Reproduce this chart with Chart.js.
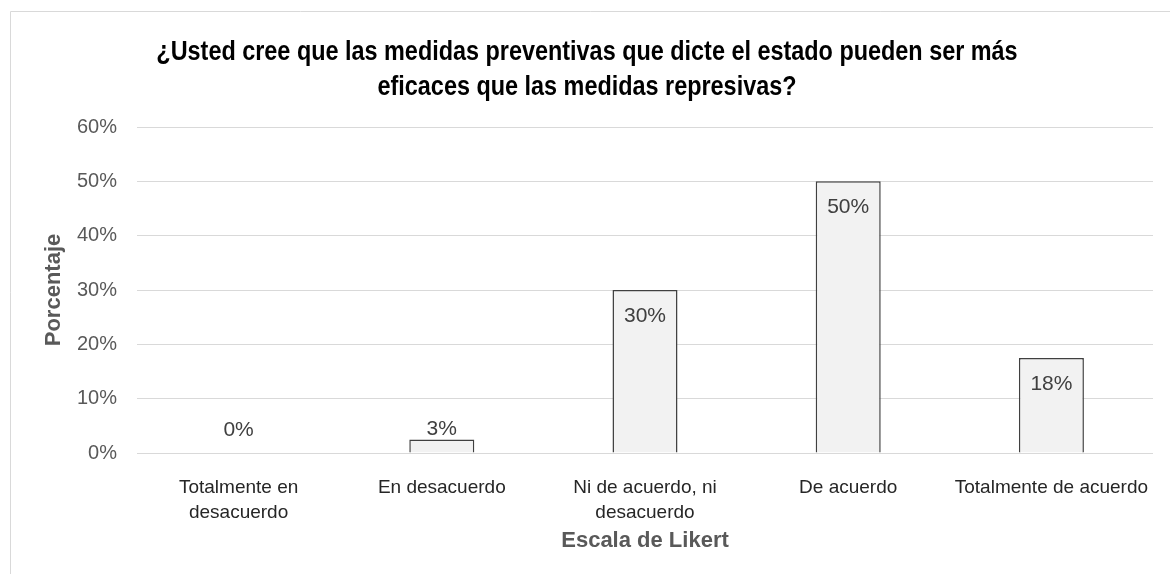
<!DOCTYPE html>
<html>
<head>
<meta charset="utf-8">
<script src="https://cdn.jsdelivr.net/npm/chart.js"></script>
<style>
    body { margin: 0; background: #fff; }
    canvas { display: block; }
</style>
</head>
<body>
<canvas id="likert-canvas" width="1170" height="574"></canvas>
<script>
var categorias = [
    ["Totalmente en", "desacuerdo"],
    "En desacuerdo",
    ["Ni de acuerdo, ni", "desacuerdo"],
    "De acuerdo",
    "Totalmente de acuerdo"
];
var porcentajes = [0, 2.5, 30, 50, 17.5];
var ticksY = [0, 10, 20, 30, 40, 50, 60];

var titulo = [
    "¿Usted cree que las medidas preventivas que dicte el estado pueden ser más",
    "eficaces que las medidas represivas?"
];

// marco gris del area del grafico
var marco = {
    id: 'marco',
    beforeDraw: function (chart) {
        var ctx = chart.ctx;
        ctx.save();
        ctx.strokeStyle = '#d9d9d9';
        ctx.lineWidth = 1;
        ctx.beginPath();
        ctx.moveTo(10.5, 574);
        ctx.lineTo(10.5, 11.5);
        ctx.lineTo(1170, 11.5);
        ctx.stroke();
        ctx.restore();
    }
};

// titulo en negrita angosta (se comprime horizontalmente, no hay Arial Narrow)
var tituloAngosto = {
    id: 'tituloAngosto',
    afterDraw: function (chart) {
        var ctx = chart.ctx;
        ctx.save();
        ctx.font = 'bold 27px "Liberation Sans", Arial, sans-serif';
        ctx.fillStyle = '#000';
        ctx.textAlign = 'center';
        ctx.textBaseline = 'middle';
        titulo.forEach(function (linea, i) {
            ctx.save();
            ctx.translate(587, 53 + i * 35);
            ctx.scale(0.867, 1);
            ctx.fillText(linea, 0, 0);
            ctx.restore();
        });
        ctx.restore();
    }
};

// etiquetas de porcentaje sobre cada barra
var etiquetas = {
    id: 'etiquetas',
    afterDatasetsDraw: function (chart) {
        var ctx = chart.ctx;
        var meta = chart.getDatasetMeta(0);
        ctx.save();
        ctx.font = '21px "Liberation Sans", Arial, sans-serif';
        ctx.fillStyle = '#404040';
        ctx.textAlign = 'center';
        ctx.textBaseline = 'middle';
        meta.data.forEach(function (bar, i) {
            var valor = chart.data.datasets[0].data[i];
            var alto = bar.base - bar.y;
            var y;
            if (alto > 40) {
                y = bar.y + 26;
            } else {
                y = Math.min(bar.y - 8, bar.base - 23);
            }
            ctx.fillText(Math.round(valor) + '%', bar.x, y);
        });
        ctx.restore();
    }
};

var ctx = document.getElementById('likert-canvas');

var grafico = new Chart(ctx, {
    type: 'bar',
    data: {
        labels: categorias,
        datasets: [
            {
                label: 'Porcentaje',
                data: porcentajes,
                backgroundColor: '#f2f2f2',
                borderColor: '#404040',
                borderWidth: 1.5,
                categoryPercentage: 1,
                barPercentage: 0.32
            }
        ]
    },
    options: {
        responsive: false,
        animation: false,
        devicePixelRatio: 1,
        layout: {
            padding: { left: 0, right: 17, top: 127, bottom: 0 }
        },
        plugins: {
            legend: { display: false },
            tooltip: { enabled: false },
            title: { display: false }
        },
        scales: {
            x: {
                grid: { display: false },
                border: { display: false },
                ticks: {
                    color: '#262626',
                    font: { family: '"Liberation Sans", Arial, sans-serif', size: 19, lineHeight: 1.32 },
                    padding: 14,
                    maxRotation: 0,
                    autoSkip: false
                },
                title: {
                    display: true,
                    text: 'Escala de Likert',
                    color: '#595959',
                    font: { family: '"Liberation Sans", Arial, sans-serif', size: 22, weight: 'bold', lineHeight: 1.2 },
                    padding: { top: 0, bottom: 20 }
                },
                afterFit: function (scale) {
                    scale.height = 121;
                }
            },
            y: {
                min: 0,
                max: 60,
                afterBuildTicks: function (scale) {
                    scale.ticks = ticksY.map(function (v) { return { value: v }; });
                },
                grid: {
                    color: '#d9d9d9',
                    lineWidth: 1,
                    drawTicks: false
                },
                border: { display: false },
                ticks: {
                    color: '#595959',
                    font: { family: '"Liberation Sans", Arial, sans-serif', size: 20 },
                    padding: 20,
                    callback: function (v) { return v + '%'; }
                },
                title: {
                    display: true,
                    text: 'Porcentaje',
                    color: '#595959',
                    font: { family: '"Liberation Sans", Arial, sans-serif', size: 22, weight: 'bold', lineHeight: 1.2 },
                    padding: { top: 41, bottom: 0 }
                },
                afterFit: function (scale) {
                    scale.width = 137;
                }
            }
        }
    },
    plugins: [marco, tituloAngosto, etiquetas]
});
</script>
</body>
</html>
